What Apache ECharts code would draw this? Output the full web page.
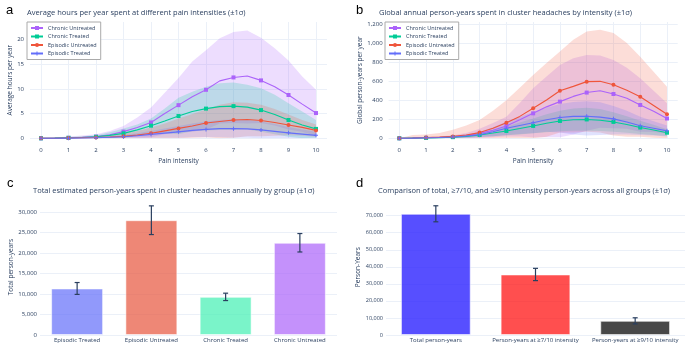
<!DOCTYPE html>
<html><head><meta charset="utf-8">
<script src="https://cdn.jsdelivr.net/npm/echarts@6/dist/echarts.min.js"></script>
<style>html,body{margin:0;padding:0;background:#fff;}#c{width:685px;height:343px;}</style>
</head><body><div id="c"></div>
<script>
// ---------- data ----------
const intensity = [0,0.5,1,1.5,2,2.5,3,3.5,4,4.5,5,5.5,6,6.5,7,7.5,8,8.5,9,9.5,10];
const groupNames = ['Chronic Untreated','Chronic Treated','Episodic Untreated','Episodic Treated'];

// Panel a: average hours per year
const hoursCUmean = [0,0.03,0.1,0.2,0.35,0.7,1.35,2.2,3.2,5.0,6.7,8.4,9.8,11.6,12.3,12.6,11.7,10.4,8.75,6.9,5.1];
const hoursCUupper = [0,0.15,0.35,0.55,0.8,1.5,2.5,4.2,6.2,9.2,12.2,15.5,17.8,20.2,21.5,21.8,20.3,18.2,15.7,12.5,9.8];
const hoursCUlower = [0,0,0,0,0,0,0.2,0.2,0.2,0.8,1.2,1.3,1.8,3.0,3.1,3.0,3.1,2.6,1.8,1.3,0.4];
const hoursCTmean = [0,0.03,0.1,0.15,0.3,0.6,1.0,1.7,2.55,3.5,4.5,5.4,6.0,6.4,6.5,6.3,5.7,4.8,3.7,2.7,1.9];
const hoursCTupper = [0,0.1,0.25,0.4,0.6,1.2,2.0,2.8,4.0,6.0,8.2,9.4,10.4,11.1,11.3,10.8,10.1,8.8,7.1,5.4,3.7];
const hoursCTlower = [0,0,0,0,0,0,0,0.6,1.1,1.0,0.8,1.4,1.6,1.7,1.7,1.8,1.3,0.8,0.3,0,0.1];
const hoursEUmean = [0,0.01,0.05,0.1,0.15,0.25,0.4,0.65,1.0,1.5,2.0,2.5,3.1,3.4,3.7,3.8,3.6,3.2,2.7,2.2,1.6];
const hoursEUupper = [0,0.05,0.15,0.3,0.45,0.7,1.0,1.5,2.2,3.0,4.0,4.9,5.8,6.8,7.3,7.2,6.8,5.9,4.8,3.7,2.8];
const hoursEUlower = [0,0,0,0,0,0,0,0,0,0,0,0.1,0.2,0,0.1,0.4,0.4,0.5,0.6,0.5,0.3];
const hoursETmean = [0,0.01,0.03,0.06,0.1,0.2,0.3,0.5,0.8,1.05,1.3,1.6,1.8,1.95,1.95,1.9,1.7,1.4,1.1,0.85,0.6];
const hoursETupper = [0,0.03,0.08,0.15,0.25,0.4,0.65,1.0,1.5,2.0,2.5,3.0,3.4,3.7,3.8,3.7,3.4,2.9,2.3,1.8,1.3];
const hoursETlower = [0,0,0,0,0,0,0,0,0.1,0.1,0.1,0.2,0.2,0.2,0.1,0.1,0,0,0,0,0];

// Panel b: global person-years per year
const pyCUmean = [0,2,5,8,14,28,52,85,130,195,262,330,385,440,480,500,465,420,350,285,208];
const pyCUupper = [0,5,12,20,32,55,100,160,227,370,525,650,770,840,875,870,822,740,630,500,367];
const pyCUlower = [0,0,0,0,0,0,5,10,20,20,10,10,10,40,80,110,105,100,70,65,50];
const pyCTmean = [0,2,4,7,12,20,35,55,77,103,130,158,182,195,198,190,172,145,113,88,59];
const pyCTupper = [0,3,7,11,19,32,55,88,123,165,208,253,290,312,320,307,274,232,184,141,96];
const pyCTlower = [0,1,1,3,5,8,15,22,31,41,52,63,74,78,80,77,68,58,46,35,24];
const pyEUmean = [0,3,8,12,20,35,60,105,164,230,315,402,500,545,595,598,563,505,437,345,252];
const pyEUupper = [0,35,40,55,90,135,193,290,400,530,665,790,910,1035,1120,1140,1105,1000,857,700,542];
const pyEUlower = [0,0,0,0,0,0,0,0,0,0,0,15,60,60,70,60,30,15,15,5,0];
const pyETmean = [0,2,5,8,14,24,38,68,105,135,164,195,218,230,232,222,204,172,132,105,78];
const pyETupper = [0,4,9,14,25,42,65,115,175,225,275,320,360,380,390,378,340,290,225,178,135];
const pyETlower = [0,0,1,2,3,6,11,21,35,45,53,70,60,40,30,35,40,40,35,30,20];

// Panel c: totals by group
const groupCats = ['Episodic Treated','Episodic Untreated','Chronic Treated','Chronic Untreated'];
const groupTotals = [11350,28000,9300,22500];
const groupErrors = [1450,3500,900,2250];

// Panel d: totals by intensity threshold
const threshCats = ['Total person-years','Person-years at \u22657/10 intensity','Person-years at \u22659/10 intensity'];
const threshTotals = [71100,35500,8300];
const threshErrors = [4700,3600,1800];

// ---------- styling ----------
const FONT = '"Open Sans", "Liberation Sans", Arial, sans-serif';
const TXT = '#2a3f5f';
const GRIDC = '#EBF0F8';
const lineColors = {'Chronic Untreated':'#AB63FA','Chronic Treated':'#00CC96','Episodic Untreated':'#EF553B','Episodic Treated':'#636EFA'};
const bandColors = {'Chronic Untreated':'rgba(171,99,250,0.22)','Chronic Treated':'rgba(0,204,150,0.2)','Episodic Untreated':'rgba(239,85,59,0.2)','Episodic Treated':'rgba(99,110,250,0.2)'};
const plusPath = 'path://M3,0H5V3H8V5H5V8H3V5H0V3H3Z';
const symbols = {'Chronic Untreated':'rect','Chronic Treated':'rect','Episodic Untreated':'circle','Episodic Treated':plusPath};
const groupBarColors = ['rgba(99,110,250,0.7)','rgba(232,95,72,0.75)','rgba(70,240,180,0.72)','rgba(171,99,250,0.7)'];
const threshBarColors = ['rgba(40,30,255,0.78)','rgba(255,20,20,0.75)','rgba(20,20,20,0.78)'];

const fmt = v => String(Math.round(v)).replace(/\B(?=(\d{3})+(?!\d))/g, ',');

function bgGrid(xi, max, interval, name, gap) {
  return {
    x: {gridIndex: xi, type:'value', min:0, max:1, show:false},
    y: {gridIndex: xi, type:'value', min:0, max:max, interval:interval,
        axisLine:{show:false}, axisTick:{show:false},
        axisLabel:{fontSize:6, color:TXT, fontFamily:FONT, margin:6, showMaxLabel:false, formatter: v => fmt(v)},
        splitLine:{lineStyle:{color:GRIDC, width:1}, showMaxLine:false},
        name:name, nameLocation:'middle', nameGap:gap, nameRotate:90,
        nameTextStyle:{fontSize:6.5, color:TXT, fontFamily:FONT}}
  };
}

const series = [];
function addBand(key, lo, hi, xi, yi) {
  series.push({type:'custom', xAxisIndex:xi, yAxisIndex:yi, z:1, silent:true, clip:true,
    data: intensity.map((x,i)=>[x, lo[i], hi[i]]),
    encode:{x:0, y:[1,2]},
    renderItem:(params, api)=>{
      if (params.dataIndexInside !== 0) return null;
      const n = params.dataInsideLength;
      const up = [], dn = [];
      for (let i = 0; i < n; i++) {
        const x = api.value(0, i);
        up.push(api.coord([x, api.value(2, i)]));
        dn.push(api.coord([x, api.value(1, i)]));
      }
      return {type:'polygon', shape:{points: up.concat(dn.reverse())}, style:{fill:bandColors[key], stroke:null}};
    }});
}
function addMean(key, vals, xi, yi) {
  series.push({type:'line', name:key, xAxisIndex:xi, yAxisIndex:yi, symbol:symbols[key],
    symbolSize:(v,p)=> (p.dataIndex % 2 === 0 ? 4 : 0), showSymbol:true,
    color:lineColors[key], itemStyle:{color:lineColors[key]},
    lineStyle:{color:lineColors[key], width:1.1}, data:intensity.map((x,i)=>[x, vals[i]]), z:3, clip:false});
}

const A = bgGrid(0, 23.5, 5, 'Average hours per year', 16);
const B = bgGrid(2, 1221, 200, 'Global person-years per year', 25);

const xAxes = [A.x,
  {gridIndex:1, type:'value', min:0, max:10, interval:1, axisLine:{show:false}, axisTick:{show:false},
   axisLabel:{fontSize:6, color:TXT, fontFamily:FONT, margin:9}, splitLine:{lineStyle:{color:GRIDC}},
   name:'Pain intensity', nameLocation:'middle', nameGap:19, nameTextStyle:{fontSize:6.5, color:TXT, fontFamily:FONT}},
  B.x,
  {gridIndex:3, type:'value', min:0, max:10, interval:1, axisLine:{show:false}, axisTick:{show:false},
   axisLabel:{fontSize:6, color:TXT, fontFamily:FONT, margin:9}, splitLine:{lineStyle:{color:GRIDC}},
   name:'Pain intensity', nameLocation:'middle', nameGap:19, nameTextStyle:{fontSize:6.5, color:TXT, fontFamily:FONT}},
  {gridIndex:4, type:'category', data:groupCats, axisLine:{show:false}, axisTick:{show:false},
   axisLabel:{fontSize:6, color:TXT, fontFamily:FONT, margin:2, interval:0}},
  {gridIndex:5, type:'category', data:threshCats, axisLine:{show:false}, axisTick:{show:false},
   axisLabel:{fontSize:6, color:TXT, fontFamily:FONT, margin:2, interval:0}}
];
const yAxes = [A.y,
  {gridIndex:1, type:'value', min:0, max:23.5, show:false},
  B.y,
  {gridIndex:3, type:'value', min:0, max:1221, show:false},
  {gridIndex:4, type:'value', min:0, max:33100, interval:5000, axisLine:{show:false}, axisTick:{show:false},
   axisLabel:{fontSize:6, color:TXT, fontFamily:FONT, margin:3, showMaxLabel:false, formatter:v=>fmt(v)},
   splitLine:{lineStyle:{color:GRIDC}, showMaxLine:false},
   name:'Total person-years', nameLocation:'middle', nameGap:22, nameTextStyle:{fontSize:6.5, color:TXT, fontFamily:FONT}},
  {gridIndex:5, type:'value', min:0, max:79600, interval:10000, axisLine:{show:false}, axisTick:{show:false},
   axisLabel:{fontSize:5.5, color:TXT, fontFamily:FONT, margin:3, showMaxLabel:false, formatter:v=>fmt(v)},
   splitLine:{lineStyle:{color:GRIDC}, showMaxLine:false},
   name:'Person-Years', nameLocation:'middle', nameGap:22, nameTextStyle:{fontSize:6.5, color:TXT, fontFamily:FONT}}
];

// panel a
addBand('Chronic Untreated', hoursCUlower, hoursCUupper, 1, 1);
addBand('Chronic Treated', hoursCTlower, hoursCTupper, 1, 1);
addBand('Episodic Untreated', hoursEUlower, hoursEUupper, 1, 1);
addBand('Episodic Treated', hoursETlower, hoursETupper, 1, 1);
addMean('Chronic Untreated', hoursCUmean, 1, 1);
addMean('Chronic Treated', hoursCTmean, 1, 1);
addMean('Episodic Untreated', hoursEUmean, 1, 1);
addMean('Episodic Treated', hoursETmean, 1, 1);
// panel b
addBand('Chronic Untreated', pyCUlower, pyCUupper, 3, 3);
addBand('Chronic Treated', pyCTlower, pyCTupper, 3, 3);
addBand('Episodic Untreated', pyEUlower, pyEUupper, 3, 3);
addBand('Episodic Treated', pyETlower, pyETupper, 3, 3);
addMean('Chronic Untreated', pyCUmean, 3, 3);
addMean('Chronic Treated', pyCTmean, 3, 3);
addMean('Episodic Untreated', pyEUmean, 3, 3);
addMean('Episodic Treated', pyETmean, 3, 3);

function errorSeries(xi, yi, vals, errs) {
  return {type:'custom', xAxisIndex:xi, yAxisIndex:yi, z:5, silent:true,
    data: vals.map((v,i)=>[i, v-errs[i], v+errs[i]]),
    encode:{x:0, y:[1,2]},
    renderItem:(params, api)=>{
      const hi = api.coord([api.value(0), api.value(2)]);
      const lo = api.coord([api.value(0), api.value(1)]);
      const w = 2.5, st = {stroke:'#2a3f5f', lineWidth:1.2};
      return {type:'group', children:[
        {type:'line', shape:{x1:hi[0], y1:hi[1], x2:lo[0], y2:lo[1]}, style:st},
        {type:'line', shape:{x1:hi[0]-w, y1:hi[1], x2:hi[0]+w, y2:hi[1]}, style:st},
        {type:'line', shape:{x1:lo[0]-w, y1:lo[1], x2:lo[0]+w, y2:lo[1]}, style:st}
      ]};
    }};
}
series.push({type:'bar', xAxisIndex:4, yAxisIndex:4, barWidth:'70%', z:2,
  data: groupTotals.map((v,i)=>({value:v, itemStyle:{color:groupBarColors[i], borderColor:'rgba(255,255,255,0.55)', borderWidth:1}}))});
series.push(errorSeries(4, 4, groupTotals, groupErrors));
series.push({type:'bar', xAxisIndex:5, yAxisIndex:5, barWidth:'70%', z:2,
  data: threshTotals.map((v,i)=>({value:v, itemStyle:{color:threshBarColors[i], borderColor:'rgba(255,255,255,0.55)', borderWidth:1}}))});
series.push(errorSeries(5, 5, threshTotals, threshErrors));

const legendBase = {orient:'vertical', top:22, data:groupNames, itemWidth:12, itemHeight:5, itemGap:2.5,
  padding:[3,4,3,3], borderColor:'#aaaaaa', borderWidth:1, backgroundColor:'#ffffff',
  textStyle:{fontSize:5.5, color:TXT, fontFamily:FONT}, selectedMode:false};

const titleStyle = {fontSize:7.5, color:TXT, fontFamily:FONT, fontWeight:'normal'};
const letterStyle = {fontSize:13, color:'#000', fontFamily:'"Liberation Sans", Arial, sans-serif', fontWeight:'normal'};

const option = {
  animation:false,
  backgroundColor:'#ffffff',
  title:[
    {text:'a', left:1, top:-1, textStyle:letterStyle},
    {text:'b', left:351, top:-1, textStyle:letterStyle},
    {text:'c', left:2, top:172, textStyle:letterStyle},
    {text:'d', left:351, top:172, textStyle:letterStyle},
    {text:'Average hours per year spent at different pain intensities (\u00b11\u03c3)', left:22, top:4, textStyle:titleStyle},
    {text:'Global annual person-years spent in cluster headaches by intensity (\u00b11\u03c3)', left:374, top:4, textStyle:titleStyle},
    {text:'Total estimated person-years spent in cluster headaches annually by group (\u00b11\u03c3)', left:28, top:182, textStyle:titleStyle},
    {text:'Comparison of total, \u22657/10, and \u22659/10 intensity person-years across all groups (\u00b11\u03c3)', left:373, top:182, textStyle:titleStyle}
  ],
  legend:[Object.assign({left:27}, legendBase), Object.assign({left:385}, legendBase)],
  grid:[
    {left:30, top:22, width:297, height:116.3},
    {left:41, top:22, width:275, height:116.3},
    {left:388.6, top:22, width:289.1, height:116.3},
    {left:399.3, top:22, width:267.7, height:116.3},
    {left:40, top:199.3, width:297, height:135.7},
    {left:386, top:199.3, width:299, height:135.7}
  ],
  xAxis:xAxes,
  yAxis:yAxes,
  series:series
};
const chart = echarts.init(document.getElementById('c'), null, {renderer:'canvas'});
chart.setOption(option);
</script></body></html>
